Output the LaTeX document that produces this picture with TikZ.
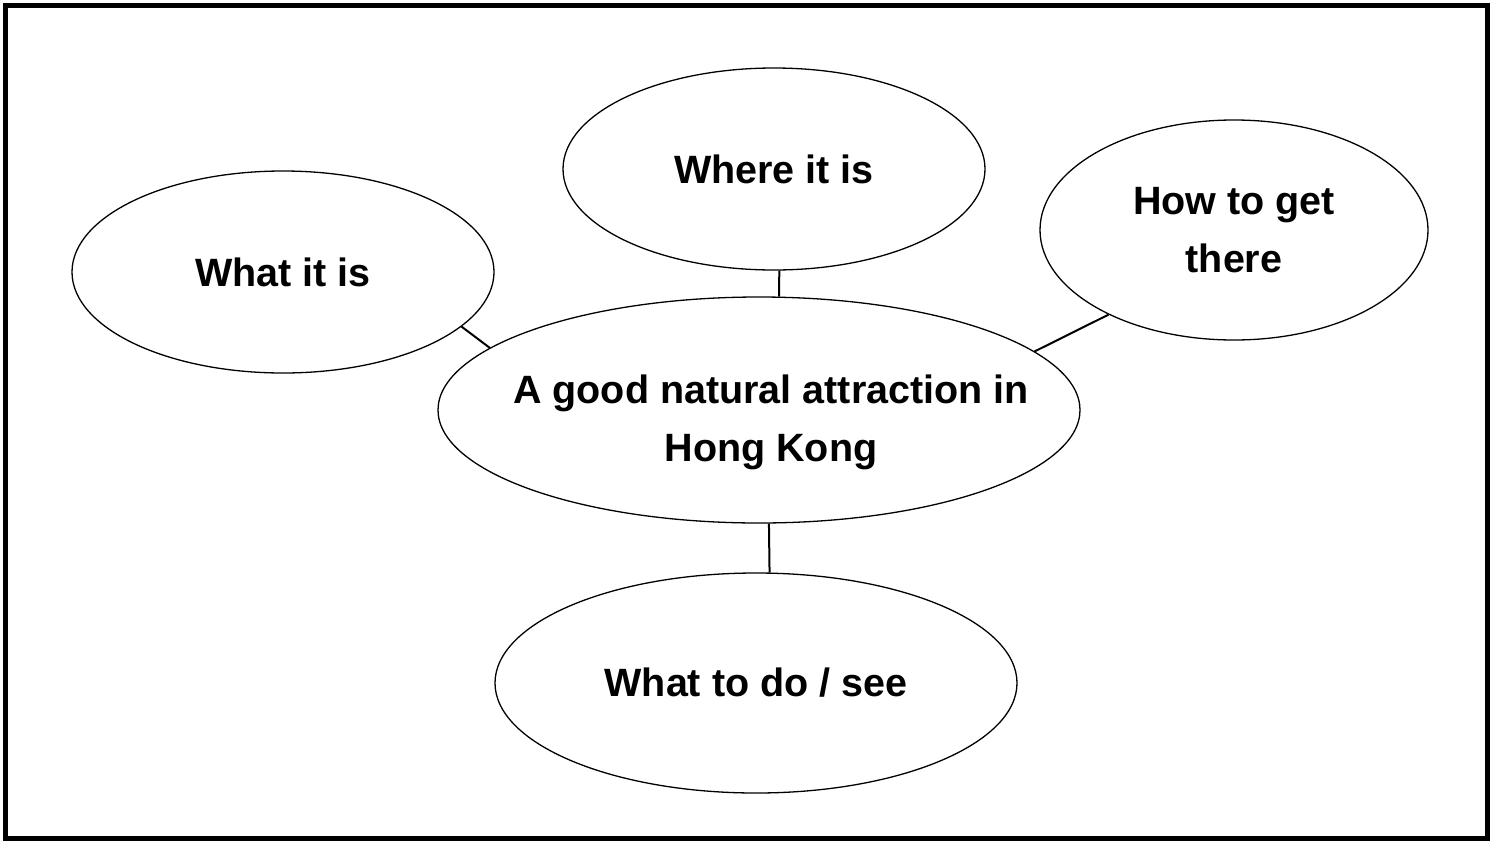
\documentclass[tikz,border=0pt]{standalone}
\usepackage{fontspec}
\setmainfont{Liberation Sans}
\usetikzlibrary{shapes.geometric}
\begin{document}
\begin{tikzpicture}[x=1pt,y=-1pt,
  bubble/.style={draw=black,line width=1.3pt,ellipse,inner sep=0pt,align=center,
    font=\fontsize{39.5}{58}\selectfont\bfseries},
  link/.style={draw=black,line width=2pt},
  lbl/.style={align=center,inner sep=0pt,font=\fontsize{39.5}{58}\selectfont\bfseries}]
\useasboundingbox (0,0) rectangle (1498,841);
\draw[line width=5pt] (5,5) rectangle (1487,838);
\node[bubble,minimum width=422pt,minimum height=202pt] (what) at (283,272) {What it is};
\node[bubble,minimum width=422pt,minimum height=202pt] (where) at (774,169) {Where it is};
\node[bubble,minimum width=388pt,minimum height=220pt] (how) at (1234,230) {How to get\\there};
\node[bubble,minimum width=642pt,minimum height=226pt] (c) at (759,410) {};
\node[lbl] (ct) at (771,422) {A good natural attraction in\\Hong Kong};
\node[bubble,minimum width=522pt,minimum height=220pt] (do) at (756,683) {What to do / see};
\draw[link] (what.-17.6) -- (c.167.3);
\draw[link] (where.-87.2) -- (c.80);
\draw[link] (how.214.5) -- (c.12.4);
\draw[link] (c.-85.4) -- (do.83.8);
\end{tikzpicture}
\end{document}
